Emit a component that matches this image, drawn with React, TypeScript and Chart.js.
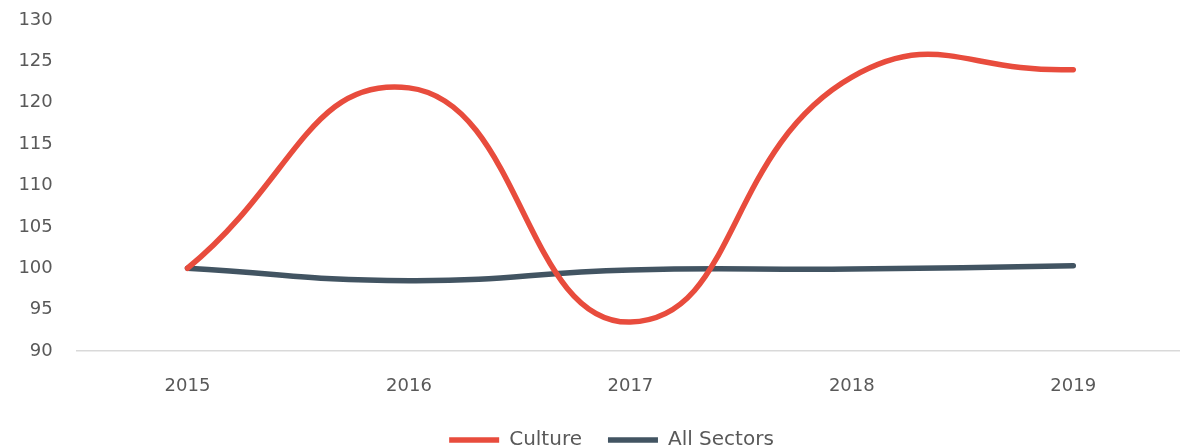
import React, { useEffect, useRef } from "react";
import { Chart, registerables } from "chart.js";

Chart.register(...registerables);

const categories: string[] = ["2015", "2016", "2017", "2018", "2019"];
const cultureValues: number[] = [100, 121.8, 93.5, 123.1, 124.0];
const allSectorsValues: number[] = [100, 98.5, 99.8, 99.9, 100.3];
const yMin = 90;
const yMax = 130;
const yStep = 5;

const RED = "#E84C3D";
const SLATE = "#425462";
const FONT = "'DejaVu Sans', sans-serif";
const LEGEND_SHIFT = 19.5;

const legendShift = {
  id: "legendShift",
  afterLayout(chart: any) {
    const lg = chart.legend;
    if (lg) {
      lg.left += LEGEND_SHIFT;
      lg.right += LEGEND_SHIFT;
    }
  },
};

export default function App() {
  const canvasRef = useRef<HTMLCanvasElement | null>(null);

  useEffect(() => {
    document.body.style.margin = "0";
    const canvas = canvasRef.current;
    if (!canvas) return;
    const chart = new Chart(canvas, {
      type: "line",
      data: {
        labels: categories,
        datasets: [
          {
            label: "Culture",
            data: cultureValues,
            borderColor: RED,
            backgroundColor: RED,
            borderWidth: 5.5,
            borderCapStyle: "round",
            borderJoinStyle: "round",
            pointRadius: 0,
            tension: 0.48,
            fill: false,
          },
          {
            label: "All Sectors",
            data: allSectorsValues,
            borderColor: SLATE,
            backgroundColor: SLATE,
            borderWidth: 5.5,
            borderCapStyle: "round",
            borderJoinStyle: "round",
            pointRadius: 0,
            tension: 0.48,
            fill: false,
          },
        ],
      },
      plugins: [legendShift],
      options: {
        animation: false,
        responsive: true,
        maintainAspectRatio: false,
        layout: { padding: { top: 20, left: 0, right: 0, bottom: 0 } },
        plugins: {
          tooltip: { enabled: false },
          legend: {
            display: true,
            position: "bottom",
            labels: {
              usePointStyle: true,
              pointStyle: "line",
              pointStyleWidth: 50,
              color: "#595959",
              font: { family: FONT, size: 20 },
              padding: 26,
            },
          },
        },
        scales: {
          x: {
            offset: true,
            grid: { display: false, drawTicks: false },
            border: { display: true, color: "#D9D9D9", width: 1.5 },
            ticks: {
              color: "#595959",
              font: { family: FONT, size: 18 },
              padding: 24.5,
              maxRotation: 0,
            },
            afterFit: (scale: any) => {
              scale.height = 53;
            },
          },
          y: {
            min: yMin,
            max: yMax,
            grid: { display: false, drawTicks: false },
            border: { display: false },
            ticks: {
              stepSize: yStep,
              color: "#595959",
              font: { family: FONT, size: 18 },
              padding: 24,
            },
            afterFit: (scale: any) => {
              scale.width = 76.75;
              scale.paddingTop = 0;
              scale.paddingBottom = 0;
            },
          },
        },
      },
    });
    return () => chart.destroy();
  }, []);

  return (
    <div style={{ width: 1180, height: 448, overflow: "hidden", position: "relative" }}>
      <div style={{ width: 1184, height: 460, position: "absolute", left: 0, top: 0 }}>
        <canvas ref={canvasRef} />
      </div>
    </div>
  );
}
